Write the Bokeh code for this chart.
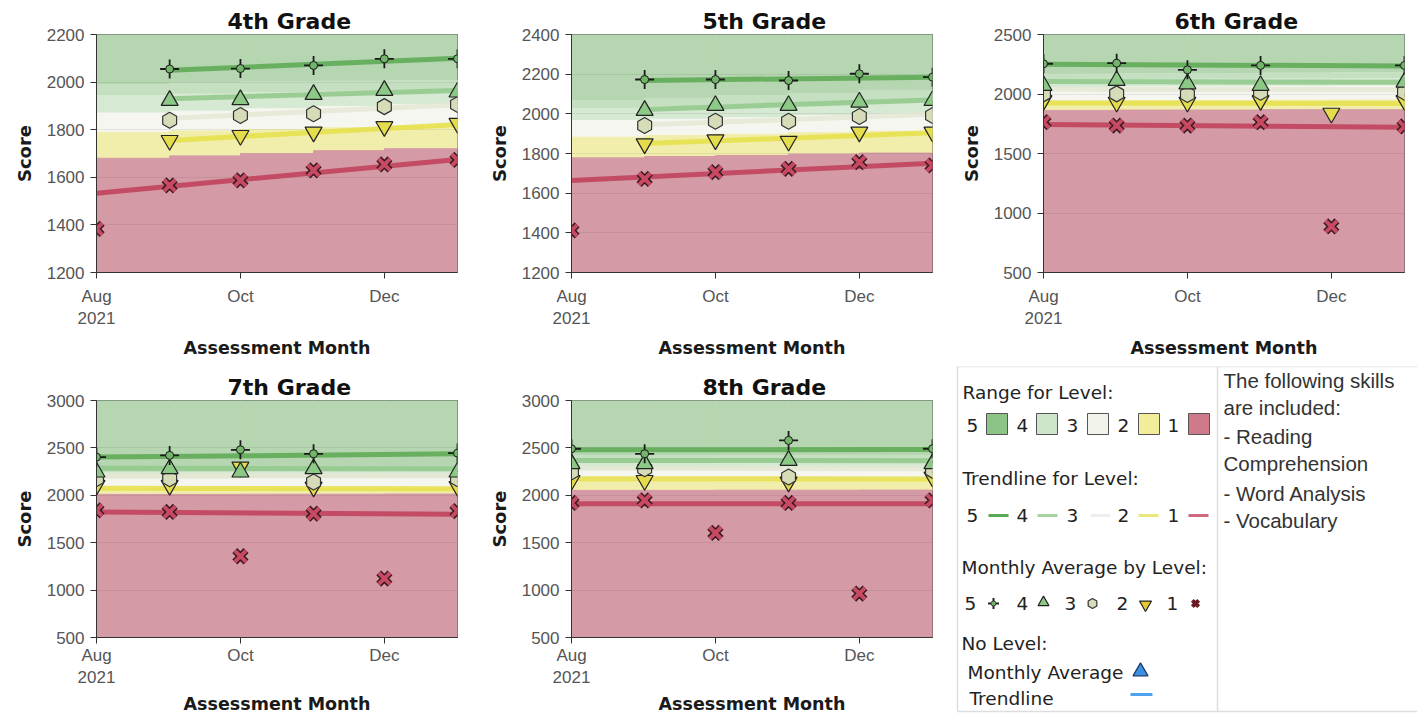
import numpy as np
import pandas as pd
from bokeh.plotting import figure
from bokeh.layouts import row, column
from bokeh.models import Range1d, FixedTicker
from bokeh.core.properties import value
from bokeh.embed import file_html
from bokeh.resources import INLINE

nan = float("nan")

# ---------------- data ----------------
months = ["2021-08-01", "2021-09-01", "2021-10-01", "2021-11-01", "2021-12-01", "2022-01-01"]
tick_months = ["2021-08-01", "2021-10-01", "2021-12-01"]
tick_labels = ["Aug\n2021", "Oct", "Dec"]
grades = ["4th Grade", "5th Grade", "6th Grade", "7th Grade", "8th Grade"]
levels = ["5", "4", "3", "2", "1"]

# monthly averages by level, Aug..Jan
g4_l5 = [nan, 2055, 2057, 2070, 2098, 2098]
g4_l4 = [nan, 1923, 1926, 1948, 1965, 1958]
g4_l3 = [nan, 1840, 1860, 1867, 1897, 1906]
g4_l2 = [nan, 1755, 1776, 1790, 1813, 1827]
g4_l1 = [1383, 1566, 1587, 1629, 1654, 1673]

g5_l5 = [nan, 2173, 2173, 2168, 2202, 2185]
g5_l4 = [nan, 2017, 2042, 2042, 2059, 2067]
g5_l3 = [nan, 1941, 1963, 1963, 1987, 1992]
g5_l2 = [nan, 1849, 1869, 1862, 1908, 1908]
g5_l1 = [1412, 1672, 1706, 1723, 1756, 1740]

g6_l5 = [2254, 2259, 2203, 2240, nan, 2240]
g6_l4 = [2071, 2113, 2085, 2071, nan, 2099]
g6_l3 = [2001, 2001, 1996, 2015, nan, 2015]
g6_l2 = [1945, 1931, 1931, 1945, 1839, 1945]
g6_l1 = [1763, 1735, 1735, 1763, 887, 1727]

g7_l5 = [2403, 2421, 2480, 2438, nan, 2445]
g7_l4 = [2245, 2280, 2245, 2280, nan, 2245]
g7_l3 = [2175, 2175, nan, 2140, nan, 2175]
g7_l2 = [2105, 2105, 2298, 2087, nan, 2094]
g7_l1 = [1841, 1824, 1357, 1806, 1122, 1834]

g8_l5 = [2491, 2438, nan, 2579, nan, 2491]
g8_l4 = [2333, 2333, nan, 2368, nan, 2333]
g8_l3 = [2245, 2280, nan, 2192, nan, 2263]
g8_l2 = [2157, 2157, nan, 2140, nan, 2192]
g8_l1 = [1919, 1947, 1603, 1919, 964, 1947]

# trendline values at first / last month with data, levels 5..1
g4_trend_start = [2050, 1930, 1848, 1755, 1533]
g4_trend_end = [2100, 1965, 1905, 1822, 1675]
g5_trend_start = [2168, 2022, 1945, 1850, 1664]
g5_trend_end = [2185, 2070, 1998, 1905, 1751]
g6_trend_start = [2250, 2105, 2040, 1925, 1744]
g6_trend_end = [2235, 2098, 2035, 1920, 1721]
g7_trend_start = [2403, 2285, 2210, 2075, 1824]
g7_trend_end = [2438, 2280, 2205, 2070, 1799]
g8_trend_start = [2480, 2368, 2285, 2175, 1912]
g8_trend_end = [2482, 2365, 2280, 2172, 1912]

# level cut scores per month (Aug..Dec): 1|2, 2|3, 3|4, 4|5
g4_cut2 = [1680, 1690, 1700, 1712, 1720]
g4_cut3 = [1788, 1795, 1800, 1808, 1815]
g4_cut4 = [1870, 1878, 1888, 1897, 1905]
g4_cut5 = [1990, 1995, 2000, 2003, 2006]
g5_cut2 = [1778, 1785, 1790, 1797, 1802]
g5_cut3 = [1882, 1890, 1897, 1905, 1912]
g5_cut4 = [1966, 1973, 1980, 1990, 1998]
g5_cut5 = [2067, 2078, 2090, 2102, 2115]
g6_cut2 = [1862, 1865, 1865, 1868, 1868]
g6_cut3 = [1940, 1945, 1945, 1948, 1950]
g6_cut4 = [2055, 2060, 2062, 2065, 2068]
g6_cut5 = [2165, 2170, 2172, 2175, 2178]
g7_cut2 = [2010, 2010, 2012, 2012, 2014]
g7_cut3 = [2070, 2070, 2072, 2072, 2075]
g7_cut4 = [2172, 2172, 2175, 2175, 2178]
g7_cut5 = [2295, 2295, 2298, 2298, 2300]
g8_cut2 = [2052, 2052, 2054, 2054, 2055]
g8_cut3 = [2155, 2155, 2157, 2157, 2160]
g8_cut4 = [2275, 2275, 2278, 2278, 2280]
g8_cut5 = [2415, 2415, 2418, 2418, 2420]

# y axis extents and tick step per grade
y_lo = [1200, 1200, 500, 500, 500]
y_hi = [2200, 2400, 2500, 3000, 3000]
y_step = [200, 200, 500, 500, 500]

skills = ["The following skills", "are included:", "- Reading", "Comprehension",
          "- Word Analysis", "- Vocabulary"]

# ---------------- styles ----------------
band_colors = ["#b5d6b0", "#d6e9d3", "#f5f6f0", "#f1eeab", "#d49ba6"]
band4_upper = "#c5dfc1"
trend_colors = ["#5aa852", "#8fc888", "#e4e8d4", "#e6df48", "#c03e58"]
marker_fill = ["#73b56b", "#8cc886", "#d6dbb8", "#e4dc4c", "#c84a62"]
LABEL_FONT = "DejaVu Sans"
TICK_FONT = "Liberation Sans"

base = pd.Timestamp(months[0])
x = np.array([(pd.Timestamp(m) - base).days for m in months], dtype=float)
tick_x = [int((pd.Timestamp(m) - base).days) for m in tick_months]

avgs = [
    [g4_l5, g4_l4, g4_l3, g4_l2, g4_l1],
    [g5_l5, g5_l4, g5_l3, g5_l2, g5_l1],
    [g6_l5, g6_l4, g6_l3, g6_l2, g6_l1],
    [g7_l5, g7_l4, g7_l3, g7_l2, g7_l1],
    [g8_l5, g8_l4, g8_l3, g8_l2, g8_l1],
]
trends = [
    (g4_trend_start, g4_trend_end), (g5_trend_start, g5_trend_end),
    (g6_trend_start, g6_trend_end), (g7_trend_start, g7_trend_end),
    (g8_trend_start, g8_trend_end),
]
cuts = [
    [g4_cut5, g4_cut4, g4_cut3, g4_cut2], [g5_cut5, g5_cut4, g5_cut3, g5_cut2],
    [g6_cut5, g6_cut4, g6_cut3, g6_cut2], [g7_cut5, g7_cut4, g7_cut3, g7_cut2],
    [g8_cut5, g8_cut4, g8_cut3, g8_cut2],
]

# figure geometry: (width, height, left, right, top, bottom borders,
#                   tick label standoff, axis label standoff)
geom = [
    (475, 366, 96, 18, 34, 94, 8, 7),
    (475, 366, 96, 18, 34, 94, 8, 7),
    (467, 366, 93, 13, 34, 94, 8, 7),
    (475, 351, 96, 18, 34, 80, 2, 4),
    (475, 351, 96, 18, 34, 80, 2, 4),
]


def make_panel(i):
    w, h, bl, br, bt, bb, tls, als = geom[i]
    lo, hi = y_lo[i], y_hi[i]
    p = figure(width=w, height=h, output_backend="svg", toolbar_location=None,
               x_range=Range1d(x[0], x[-1]), y_range=Range1d(lo, hi),
               min_border_left=bl, min_border_right=br,
               min_border_top=bt, min_border_bottom=bb,
               background_fill_color="white", border_fill_color="white")
    p.title.text = grades[i]
    p.title.align = "left"
    p.title.offset = 131
    p.title.text_font = LABEL_FONT
    p.title.text_font_size = "22px"
    p.title.text_font_style = "bold"
    p.title.text_color = "#111111"
    p.title.standoff = 2

    # level bands (step per month)
    c5, c4, c3, c2 = [np.array(c, dtype=float) for c in cuts[i]]
    n = len(c5)
    tops = [np.full(n, hi), c5, c4, c3, c2]
    bots = [c5, c4, c3, c2, np.full(n, lo)]
    for k in range(5):
        p.quad(left=x[:-1], right=x[1:], bottom=bots[k], top=tops[k],
               fill_color=band_colors[k], line_color=band_colors[k], line_width=1,
               level="image")
    # darker shade in the upper part of the level-4 band
    mid4 = c5 - (c5 - c4) * 0.35
    p.quad(left=x[:-1], right=x[1:], bottom=mid4, top=c5,
           fill_color=band4_upper, line_color=band4_upper, line_width=1, level="image")

    p.ygrid.grid_line_color = "#000000"
    p.ygrid.grid_line_alpha = 0.07
    p.xgrid.grid_line_color = None

    # trendlines
    ts, te = trends[i]
    for k in range(5):
        ys = np.array(avgs[i][k], dtype=float)
        ok = np.where(~np.isnan(ys))[0]
        p.line([x[ok[0]], x[ok[-1]]], [ts[k], te[k]], line_width=5,
               line_color=trend_colors[k], line_alpha=0.85)

    # monthly averages
    l5, l4, l3, l2, l1 = [np.array(a, dtype=float) for a in avgs[i]]
    p.scatter(x, l2, marker="inverted_triangle", size=17, fill_color=marker_fill[3],
              line_color="#222222", line_width=1.2)
    p.scatter(x, l3, marker="hex", size=16, angle=np.pi / 6, fill_color=marker_fill[2],
              line_color="#333333", line_width=1.2)
    p.scatter(x, l4, marker="triangle", size=17, fill_color=marker_fill[1],
              line_color="#222222", line_width=1.2)
    p.scatter(x, l5, marker="cross", size=19, line_color="#1a1a1a", line_width=1.8)
    p.scatter(x, l5, marker="circle", size=8, fill_color=marker_fill[0],
              line_color="#1a1a1a", line_width=1)
    p.scatter(x, l1, marker="x", size=16, line_color="#3a1a22", line_width=7)
    p.scatter(x, l1, marker="x", size=16, line_color=marker_fill[4], line_width=4)

    # axes
    p.outline_line_color = "#333333"
    p.outline_line_alpha = 1
    p.yaxis.ticker = FixedTicker(ticks=list(range(lo, hi + 1, y_step[i])))
    p.xaxis.ticker = FixedTicker(ticks=tick_x)
    p.xaxis.major_label_overrides = {t: l for t, l in zip(tick_x, tick_labels)}
    p.axis.minor_tick_line_color = None
    p.axis.major_tick_out = 6
    p.axis.major_tick_in = 0
    p.axis.axis_line_color = "#333333"
    p.axis.major_tick_line_color = "#333333"
    p.axis.major_label_text_font = TICK_FONT
    p.axis.major_label_text_font_size = "17px"
    p.axis.major_label_text_color = "#555555"
    p.yaxis.major_label_standoff = 6
    p.xaxis.major_label_standoff = tls
    p.yaxis.axis_label = "Score"
    p.xaxis.axis_label = "Assessment Month"
    p.axis.axis_label_text_font = LABEL_FONT
    p.axis.axis_label_text_font_style = "bold"
    p.axis.axis_label_text_color = "#1a1a1a"
    p.yaxis.axis_label_text_font_size = "18px"
    p.xaxis.axis_label_text_font_size = "17.5px"
    p.yaxis.axis_label_standoff = 9
    p.xaxis.axis_label_standoff = als
    return p


panels = [make_panel(i) for i in range(5)]

# ---------------- legend panel ----------------
leg = figure(width=467, height=351, output_backend="svg", toolbar_location=None,
             x_range=Range1d(950, 1417), y_range=Range1d(717, 366),
             x_axis_location=None, y_axis_location=None,
             min_border_left=0, min_border_right=0, min_border_top=0, min_border_bottom=0,
             background_fill_color="white", border_fill_color="white")
leg.frame_align = False
leg.outline_line_color = None
leg.grid.visible = False

# frame of legend box
leg.line([957, 957], [366, 711], line_color="#dddddd", line_width=1.5)
leg.line([957, 1417], [366, 366], line_color="#dddddd", line_width=1.5)
leg.line([957, 1417], [711, 711], line_color="#dddddd", line_width=1.5)
leg.line([1217, 1217], [366, 711], line_color="#dddddd", line_width=1.5)

txt = dict(text_font=value(LABEL_FONT), text_font_size="18.5px", text_color="#222222",
           text_baseline="middle", text_align="left")
leg.text(x=[962], y=[392], text=["Range for Level:"], **txt)
leg.text(x=[962], y=[478], text=["Trendline for Level:"], **txt)
leg.text(x=[961], y=[567], text=["Monthly Average by Level:"], **txt)
leg.text(x=[961], y=[643], text=["No Level:"], **txt)
leg.text(x=[967], y=[672], text=["Monthly Average"], **txt)
leg.text(x=[969], y=[698], text=["Trendline"], **txt)

num_x = [966, 1016, 1066, 1117, 1167]
leg.text(x=num_x, y=[425] * 5, text=levels, **txt)
leg.text(x=num_x, y=[515] * 5, text=levels, **txt)
leg.text(x=[964, 1016, 1064, 1116, 1166], y=[603] * 5, text=levels, **txt)

sw_left = [986, 1036, 1087, 1138, 1188]
swatch_colors = ["#8cc488", "#cde5ca", "#f2f3ea", "#f1ed9a", "#cf7a8a"]
leg.quad(left=sw_left, right=[s + 21 for s in sw_left], top=[413] * 5, bottom=[434] * 5,
         fill_color=swatch_colors, line_color="#555555", line_width=1)

ln_left = [988, 1037, 1090, 1138, 1188]
legend_trend = ["#5aa852", "#a8d4a2", "#eeeeee", "#ece77a", "#cf6a80"]
leg.segment(x0=ln_left, x1=[s + 20 for s in ln_left], y0=[515] * 5, y1=[515] * 5,
            line_color=legend_trend, line_width=3)

mk_x = [993, 1043, 1092, 1145, 1195]
leg.scatter([mk_x[0]], [603], marker="cross", size=11, line_color="#222222", line_width=2)
leg.scatter([mk_x[0]], [603], marker="circle", size=5, fill_color=marker_fill[0],
            line_color="#222222", line_width=0.8)
leg.scatter([mk_x[1]], [602], marker="triangle", size=11, fill_color=marker_fill[1],
            line_color="#222222", line_width=1.2)
leg.scatter([mk_x[2]], [603], marker="hex", size=10, angle=np.pi / 6, fill_color=marker_fill[2],
            line_color="#333333", line_width=1.2)
leg.scatter([mk_x[3]], [604], marker="inverted_triangle", size=12, fill_color="#e8c830",
            line_color="#222222", line_width=1.2)
leg.scatter([mk_x[4]], [603], marker="x", size=9, line_color="#6a1a22", line_width=4)

leg.scatter([1140], [671], marker="triangle", size=15, fill_color="#3d8fe0",
            line_color="#1a3a6a", line_width=1.2)
leg.segment(x0=[1130], x1=[1152], y0=[694], y1=[694], line_color="#4da3f0", line_width=3)

leg.text(x=[1223] * 6, y=[380, 407, 436, 463, 493, 520], text=skills,
         text_font=value("Liberation Sans"), text_font_size="20.5px", text_color="#333333",
         text_baseline="middle", text_align="left")

layout = column(row(panels[0], panels[1], panels[2]),
                row(panels[3], panels[4], leg))

open("out.html", "w").write(file_html(layout, INLINE))
